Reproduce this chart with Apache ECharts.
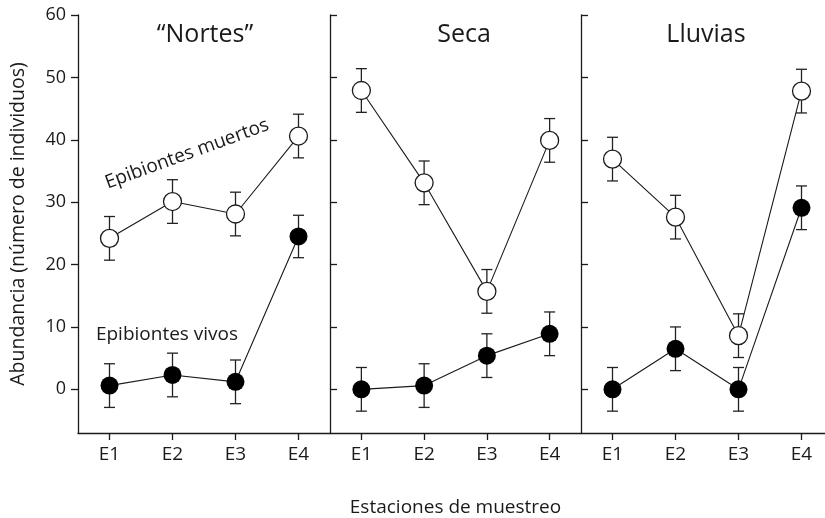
<!DOCTYPE html>
<html>
<head>
<meta charset="utf-8">
<script src="https://cdn.jsdelivr.net/npm/echarts@6/dist/echarts.min.js"></script>
<style>html,body{margin:0;padding:0;background:#fff;}#c{width:825px;height:518px;}</style>
</head>
<body>
<div id="c"></div>
<script>
const categories = ['E1', 'E2', 'E3', 'E4'];
const categoryIndex = [0, 1, 2, 3];
const panelTitles = ['\u201CNortes\u201D', 'Seca', 'Lluvias'];
const yTicks = [0, 10, 20, 30, 40, 50, 60];
const yMin = -7, yMax = 60;

const muertosNortes = [24.2, 30.1, 28.1, 40.6];
const muertosNortesErr = [3.5, 3.5, 3.5, 3.5];
const vivosNortes = [0.6, 2.3, 1.2, 24.5];
const vivosNortesErr = [3.5, 3.5, 3.5, 3.4];

const muertosSeca = [47.9, 33.1, 15.7, 39.9];
const muertosSecaErr = [3.5, 3.5, 3.5, 3.5];
const vivosSeca = [0.0, 0.6, 5.4, 8.9];
const vivosSecaErr = [3.5, 3.5, 3.5, 3.5];

const muertosLluvias = [36.9, 27.6, 8.6, 47.8];
const muertosLluviasErr = [3.5, 3.5, 3.5, 3.5];
const vivosLluvias = [0.0, 6.5, 0.0, 29.1];
const vivosLluviasErr = [3.5, 3.5, 3.5, 3.5];

const muertos = [muertosNortes, muertosSeca, muertosLluvias];
const muertosErr = [muertosNortesErr, muertosSecaErr, muertosLluviasErr];
const vivos = [vivosNortes, vivosSeca, vivosLluvias];
const vivosErr = [vivosNortesErr, vivosSecaErr, vivosLluviasErr];

const FONT = '"Open Sans", "Noto Sans", sans-serif';
const INK = '#1a1a1a';

// third panel is cut by the right edge of the picture (same band width as the others)
const grids = [
  {left: 78, top: 15, width: 252, height: 418, outerBoundsMode: 'none', containLabel: false},
  {left: 330, top: 15, width: 251, height: 418, outerBoundsMode: 'none', containLabel: false},
  {left: 581, top: 15, width: 244, height: 418, outerBoundsMode: 'none', containLabel: false}
];
const xRanges = [[-0.5, 3.5], [-0.5, 3.5], [-0.5, -0.5 + 244 / 63]];

const xAxes = grids.map((g, i) => ({
  type: 'value', gridIndex: i, min: xRanges[i][0], max: xRanges[i][1],
  axisLine: {show: true, onZero: false, lineStyle: {color: INK, width: 1.3}},
  axisTick: {show: true, length: 7, inside: false, customValues: categoryIndex, lineStyle: {color: INK, width: 1.3}},
  axisLabel: {color: INK, fontFamily: FONT, fontSize: 19, margin: 12, customValues: categoryIndex,
              formatter: v => categories[Math.round(v)]},
  splitLine: {show: false},
  minorTick: {show: false},
  name: i === 1 ? 'Estaciones de muestreo' : '',
  nameLocation: 'middle', nameGap: 65,
  nameTextStyle: {color: INK, fontFamily: FONT, fontSize: 19}
}));

const yAxes = grids.map((g, i) => ({
  type: 'value', gridIndex: i, min: yMin, max: yMax,
  axisLine: {show: true, onZero: false, lineStyle: {color: INK, width: 1.3}},
  axisTick: {show: true, inside: i !== 0, length: 7, customValues: yTicks, lineStyle: {color: INK, width: 1.3}},
  axisLabel: {show: i === 0, color: INK, fontFamily: FONT, fontSize: 18, margin: 12, customValues: yTicks},
  splitLine: {show: false},
  name: i === 0 ? 'Abundancia (número de individuos)' : '',
  nameLocation: 'middle', nameGap: 50, nameRotate: 90,
  nameTextStyle: {color: INK, fontFamily: FONT, fontSize: 19.5}
}));

function renderErr(params, api) {
  const x = api.value(0), lo = api.value(1), hi = api.value(2);
  const t = api.coord([x, hi]);
  const b = api.coord([x, lo]);
  const hw = 5.5;
  const st = {stroke: '#222', lineWidth: 1.3};
  return {type: 'group', children: [
    {type: 'line', shape: {x1: t[0], y1: t[1], x2: b[0], y2: b[1]}, style: st},
    {type: 'line', shape: {x1: t[0] - hw, y1: t[1], x2: t[0] + hw, y2: t[1]}, style: st},
    {type: 'line', shape: {x1: b[0] - hw, y1: b[1], x2: b[0] + hw, y2: b[1]}, style: st}
  ]};
}

const series = [];
for (let p = 0; p < 3; p++) {
  [[muertos[p], muertosErr[p]], [vivos[p], vivosErr[p]]].forEach(([vals, errs]) => {
    series.push({
      type: 'custom', xAxisIndex: p, yAxisIndex: p, z: 1,
      renderItem: renderErr, clip: false,
      encode: {x: 0, y: [1, 2]},
      data: vals.map((v, i) => [categoryIndex[i], v - errs[i], v + errs[i]])
    });
  });
  series.push({
    type: 'line', xAxisIndex: p, yAxisIndex: p, z: 3,
    data: muertos[p].map((v, i) => [categoryIndex[i], v]),
    symbol: 'circle', symbolSize: 18, showSymbol: true,
    lineStyle: {color: INK, width: 1.1},
    itemStyle: {color: '#fff', borderColor: INK, borderWidth: 1.3}
  });
  series.push({
    type: 'line', xAxisIndex: p, yAxisIndex: p, z: 4,
    data: vivos[p].map((v, i) => [categoryIndex[i], v]),
    symbol: 'circle', symbolSize: 18, showSymbol: true,
    lineStyle: {color: INK, width: 1.1},
    itemStyle: {color: '#000', borderColor: '#000', borderWidth: 0}
  });
}

const titleX = [205, 464, 706];
const graphic = panelTitles.map((t, i) => ({
  type: 'text', x: titleX[i], y: 35,
  style: {text: t, fill: INK, font: '25px ' + FONT, textAlign: 'center', textVerticalAlign: 'middle'}
}));
graphic.push({
  type: 'text', x: 187, y: 154, rotation: 20 * Math.PI / 180,
  style: {text: 'Epibiontes muertos', fill: INK, font: '19px ' + FONT, textAlign: 'center', textVerticalAlign: 'middle'}
});
graphic.push({
  type: 'text', x: 167, y: 335,
  style: {text: 'Epibiontes vivos', fill: INK, font: '19px ' + FONT, textAlign: 'center', textVerticalAlign: 'middle'}
});

const chart = echarts.init(document.getElementById('c'));
chart.setOption({
  backgroundColor: '#fff',
  animation: false,
  grid: grids,
  xAxis: xAxes,
  yAxis: yAxes,
  series: series,
  graphic: graphic
});
</script>
</body>
</html>
